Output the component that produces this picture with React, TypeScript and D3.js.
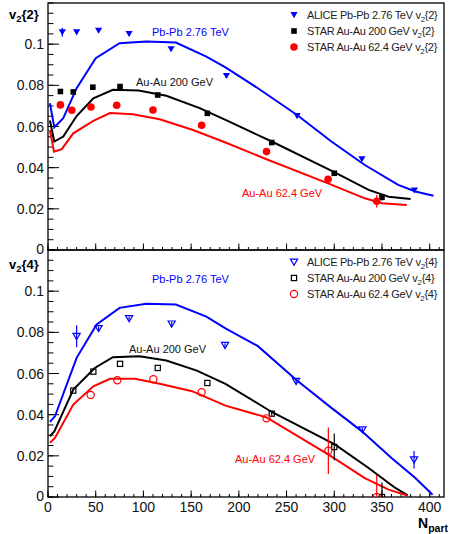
import React from 'react';
import * as d3 from 'd3';

// ---- v2{2} panel ----
const aliceV22Npart = [15, 30, 53, 85, 129, 187, 261, 329, 384];
const aliceV22 = [0.1058, 0.1058, 0.1066, 0.105, 0.0976, 0.0846, 0.0651, 0.0442, 0.029];
const aliceV22Err = [0.0022, 0.001, 0.001, 0.001, 0.001, 0.001, 0.001, 0.001, 0.001];

const star200V22Npart = [13, 26.5, 47, 75.5, 115, 167, 234.5, 300, 350];
const star200V22 = [0.077, 0.0768, 0.0791, 0.0794, 0.0753, 0.0664, 0.0522, 0.0373, 0.0256];
const star200V22Err = [0, 0, 0, 0, 0, 0, 0, 0, 0.0015];

const star62V22Npart = [13, 25, 45, 72, 110, 161, 229, 293.5, 344.5];
const star62V22 = [0.0705, 0.0679, 0.0695, 0.0703, 0.068, 0.0606, 0.0478, 0.0344, 0.0237];
const star62V22Err = [0, 0, 0, 0, 0, 0, 0, 0, 0.003];

const hydroPbV22Npart = [2, 6.6, 16, 30, 50, 75, 103, 134, 166, 186, 220, 261, 297, 332, 367, 385, 404];
const hydroPbV22 = [0.0713, 0.0596, 0.064, 0.0786, 0.0932, 0.1005, 0.1013, 0.1008, 0.094, 0.0887, 0.0786, 0.0656, 0.0527, 0.0413, 0.0316, 0.0284, 0.0264];

const hydroAu200V22Npart = [2, 6.6, 16, 30, 47.5, 68, 95, 124, 159, 186, 234.5, 300, 336, 357, 380];
const hydroAu200V22 = [0.0629, 0.0527, 0.0551, 0.0651, 0.0737, 0.0778, 0.0775, 0.0749, 0.0689, 0.0632, 0.0527, 0.0378, 0.0292, 0.0259, 0.0248];

const hydroAu62V22Npart = [2, 6.3, 14.4, 26.5, 47.5, 65, 89, 117, 152, 186, 229, 293.5, 332, 350, 376];
const hydroAu62V22 = [0.0583, 0.0478, 0.049, 0.0567, 0.0627, 0.0665, 0.066, 0.0635, 0.0583, 0.0522, 0.0441, 0.0324, 0.0251, 0.0227, 0.0219];

// ---- v2{4} panel ----
const aliceV24Npart = [30, 53, 85, 129.6, 185.5, 260, 329.5, 383.6];
const aliceV24 = [0.0781, 0.0819, 0.0867, 0.0841, 0.0737, 0.0562, 0.0327, 0.0181];
const aliceV24Err = [0.0053, 0.001, 0.001, 0.001, 0.001, 0.001, 0.001, 0.0043];

const star200V24Npart = [26.5, 47.5, 75.5, 115, 167, 234.5, 300, 350];
const star200V24 = [0.0517, 0.0609, 0.0647, 0.0627, 0.0554, 0.0405, 0.0243, 0.0];
const star200V24Err = [0, 0, 0, 0, 0, 0.001, 0.0065, 0.007];

const star62V24Npart = [44.7, 72.6, 110.4, 161, 229, 293.8, 344.5];
const star62V24 = [0.0496, 0.0567, 0.0572, 0.0509, 0.0382, 0.0225, 0.0];
const star62V24Err = [0, 0, 0, 0, 0, 0.0113, 0.0108];

const hydroPbV24Npart = [2, 7.3, 30, 51, 75, 103, 134, 166, 186, 220, 260, 297, 329, 360, 385, 403];
const hydroPbV24 = [0.0365, 0.0392, 0.0676, 0.0838, 0.0919, 0.0939, 0.0935, 0.0876, 0.0819, 0.0733, 0.057, 0.0433, 0.0319, 0.019, 0.0092, 0.0011];

const hydroAu200V24Npart = [2, 6.6, 26.5, 49, 68, 96, 124, 156, 186, 234.5, 301, 336, 364, 377];
const hydroAu200V24 = [0.0295, 0.0319, 0.0522, 0.0627, 0.0679, 0.0684, 0.0663, 0.0614, 0.055, 0.0413, 0.0254, 0.0141, 0.0044, 0.0008];

const hydroAu62V24Npart = [2, 7.3, 26.5, 47.5, 65, 91, 117, 151, 186, 229, 294, 332, 357, 376];
const hydroAu62V24 = [0.0263, 0.0287, 0.0449, 0.0538, 0.0574, 0.0574, 0.055, 0.0514, 0.0444, 0.0387, 0.0206, 0.0092, 0.0036, 0.0008];

// ticks
const xTicks = [0, 50, 100, 150, 200, 250, 300, 350, 400];
const xMinorTicks = d3.range(0, 411, 10);
const yTicks = [0, 0.02, 0.04, 0.06, 0.08, 0.1];
const yMinorTicks = d3.range(0, 0.1201, 0.005);

const BLUE = '#0000ff';
const RED = '#ff0000';
const BLACK = '#000000';
const FONT = "'Liberation Sans', Arial, sans-serif";

const W = 450;
const H = 534;
const left = 48;
const right = 444;

const x = d3.scaleLinear().domain([0, 415]).range([left, right]);

const zip = (xs: number[], ys: number[]) => xs.map((d, i) => [d, ys[i]] as [number, number]);

const LegendLabel = ({ prefix, order }: { prefix: string; order: string }) => (
  <>
    {prefix}
    <tspan dy={3} fontSize="0.72em">2</tspan>
    <tspan dy={-3}>{`{${order}}`}</tspan>
  </>
);

const Marker = ({ kind, cx, cy, color }: { kind: string; cx: number; cy: number; color: string }) => {
  const filled = !kind.startsWith('open');
  const fill = filled ? color : 'none';
  const sw = filled ? 0 : 1.2;
  if (kind.endsWith('tri')) {
    const s = 3.6;
    return (
      <path
        d={`M${cx - s},${cy - s * 0.8} L${cx + s},${cy - s * 0.8} L${cx},${cy + s * 0.9} Z`}
        fill={fill} stroke={color} strokeWidth={sw}
      />
    );
  }
  if (kind.endsWith('sq')) {
    const s = filled ? 2.8 : 2.6;
    return <rect x={cx - s} y={cy - s} width={2 * s} height={2 * s} fill={fill} stroke={color} strokeWidth={sw} />;
  }
  return <circle cx={cx} cy={cy} r={filled ? 3.8 : 3.6} fill={fill} stroke={color} strokeWidth={sw} />;
};

type Series = { npart: number[]; v: number[]; err: number[]; kind: string; color: string; label: string };
type Curve = { npart: number[]; v: number[]; color: string };
type Note = { text: string; color: string; tx: number; ty: number };

const Panel = ({
  id, top, bottom, yTitle, series, curves, notes, legendTop, showXLabels,
}: {
  id: string; top: number; bottom: number; yTitle: string; series: Series[]; curves: Curve[];
  notes: Note[]; legendTop: number; showXLabels: boolean;
}) => {
  const y = d3.scaleLinear().domain([0, 0.12]).range([bottom, top]);
  const line = d3.line<[number, number]>().x(d => x(d[0])).y(d => y(d[1]));
  const fmt = (d: number) => String(+d.toFixed(2));
  return (
    <g fontFamily={FONT}>
      <defs>
        <clipPath id={`clip-${id}`}>
          <rect x={left} y={top} width={right - left} height={bottom - top} />
        </clipPath>
      </defs>
      {/* y ticks, drawn inward */}
      {yMinorTicks.map(t => (
        <line key={`ym${t}`} x1={left} x2={left + 5.5} y1={y(t)} y2={y(t)} stroke={BLACK} strokeWidth={1} />
      ))}
      {yTicks.map(t => (
        <g key={`y${t}`}>
          <line x1={left} x2={left + 11} y1={y(t)} y2={y(t)} stroke={BLACK} strokeWidth={1} />
          <text x={left - 4} y={y(t) + (t === 0 ? 3.5 : 5)} textAnchor="end" fontSize={14} fill="#111">{fmt(t)}</text>
        </g>
      ))}
      {/* x ticks */}
      {xMinorTicks.map(t => (
        <line key={`xm${t}`} x1={x(t)} x2={x(t)} y1={bottom} y2={bottom - 3} stroke={BLACK} strokeWidth={1} />
      ))}
      {xTicks.map(t => (
        <g key={`x${t}`}>
          <line x1={x(t)} x2={x(t)} y1={bottom} y2={bottom - 6.5} stroke={BLACK} strokeWidth={1} />
          {showXLabels && (
            <text x={x(t)} y={bottom + 15} textAnchor="middle" fontSize={14} fill="#111">{t}</text>
          )}
        </g>
      ))}
      <rect x={left} y={top} width={right - left} height={bottom - top} fill="none" stroke={BLACK} strokeWidth={1.3} />

      <g clipPath={`url(#clip-${id})`}>
        {curves.map((c, i) => (
          <path key={`c${i}`} d={line(zip(c.npart, c.v)) || ''} fill="none" stroke={c.color} strokeWidth={2} />
        ))}
        {series.map((s, i) => (
          <g key={`s${i}`}>
            {s.npart.map((n, j) => s.err[j] > 0 && (
              <line key={`e${j}`} x1={x(n)} x2={x(n)} y1={y(s.v[j] - s.err[j])} y2={y(s.v[j] + s.err[j])}
                stroke={s.color} strokeWidth={1.2} />
            ))}
            {s.npart.map((n, j) => (
              <Marker key={`m${j}`} kind={s.kind} cx={x(n)} cy={y(s.v[j])} color={s.color} />
            ))}
          </g>
        ))}
      </g>

      {notes.map((n, i) => (
        <text key={`n${i}`} x={n.tx} y={n.ty} fontSize={11} fill={n.color}>{n.text}</text>
      ))}

      {series.map((s, i) => (
        <g key={`l${i}`}>
          <Marker kind={s.kind} cx={294} cy={legendTop + i * 16 - 4} color={s.color} />
          <text x={307} y={legendTop + i * 16} fontSize={11} letterSpacing={-0.3} fill="#222">
            <LegendLabel prefix={s.label} order={yTitle} />
          </text>
        </g>
      ))}

      <text x={9} y={top + (yTitle === '4' ? 19 : 16)} fontSize={13} fontWeight="bold" fill={BLACK}>
        v<tspan dy={3} fontSize="0.72em">2</tspan><tspan dy={-3}>{`{${yTitle}}`}</tspan>
      </text>
    </g>
  );
};

const App = () => {
  const topSeries: Series[] = [
    { npart: aliceV22Npart, v: aliceV22, err: aliceV22Err, kind: 'tri', color: BLUE, label: 'ALICE Pb-Pb 2.76 TeV v' },
    { npart: star200V22Npart, v: star200V22, err: star200V22Err, kind: 'sq', color: BLACK, label: 'STAR Au-Au 200 GeV v' },
    { npart: star62V22Npart, v: star62V22, err: star62V22Err, kind: 'circ', color: RED, label: 'STAR Au-Au 62.4 GeV v' },
  ];
  const topCurves: Curve[] = [
    { npart: hydroPbV22Npart, v: hydroPbV22, color: BLUE },
    { npart: hydroAu200V22Npart, v: hydroAu200V22, color: BLACK },
    { npart: hydroAu62V22Npart, v: hydroAu62V22, color: RED },
  ];
  const botSeries: Series[] = [
    { npart: aliceV24Npart, v: aliceV24, err: aliceV24Err, kind: 'open-tri', color: BLUE, label: 'ALICE Pb-Pb 2.76 TeV v' },
    { npart: star200V24Npart, v: star200V24, err: star200V24Err, kind: 'open-sq', color: BLACK, label: 'STAR Au-Au 200 GeV v' },
    { npart: star62V24Npart, v: star62V24, err: star62V24Err, kind: 'open-circ', color: RED, label: 'STAR Au-Au 62.4 GeV v' },
  ];
  const botCurves: Curve[] = [
    { npart: hydroPbV24Npart, v: hydroPbV24, color: BLUE },
    { npart: hydroAu200V24Npart, v: hydroAu200V24, color: BLACK },
    { npart: hydroAu62V24Npart, v: hydroAu62V24, color: RED },
  ];

  return (
    <svg width={W} height={H} style={{ position: 'absolute', left: 0, top: 0, background: '#fff' }}>
      <Panel
        id="v22" top={3} bottom={250} yTitle="2" series={topSeries} curves={topCurves} legendTop={19}
        showXLabels={false}
        notes={[
          { text: 'Pb-Pb 2.76 TeV', color: BLUE, tx: 152, ty: 36 },
          { text: 'Au-Au 200 GeV', color: '#111', tx: 136, ty: 86 },
          { text: 'Au-Au 62.4 GeV', color: RED, tx: 242, ty: 197 },
        ]}
      />
      <Panel
        id="v24" top={250} bottom={497} yTitle="4" series={botSeries} curves={botCurves} legendTop={266}
        showXLabels
        notes={[
          { text: 'Pb-Pb 2.76 TeV', color: BLUE, tx: 152, ty: 283 },
          { text: 'Au-Au 200 GeV', color: '#111', tx: 129, ty: 353 },
          { text: 'Au-Au 62.4 GeV', color: RED, tx: 235, ty: 463 },
        ]}
      />
      <text x={418} y={528} fontFamily={FONT} fontWeight="bold" fontSize={14}>
        N<tspan dy={4} fontSize={10.5}>part</tspan>
      </text>
    </svg>
  );
};

export default App;
